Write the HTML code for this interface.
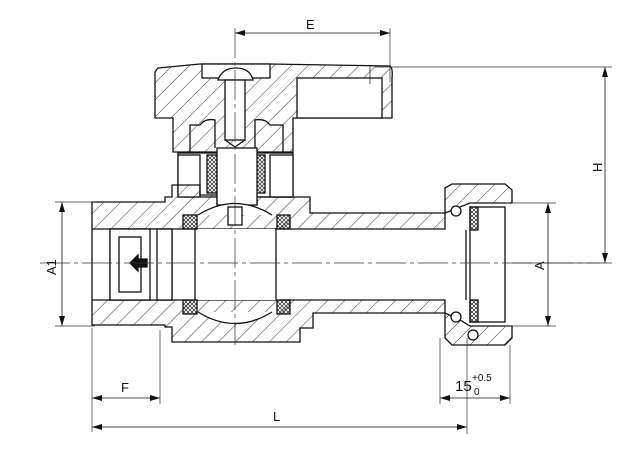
<!DOCTYPE html>
<html><head><meta charset="utf-8"><style>
html,body{margin:0;padding:0;background:#fff;}
svg{display:block;}
text{font-family:"Liberation Sans",Arial,sans-serif;fill:#111;}
</style></head><body>
<svg width="630" height="450" viewBox="0 0 630 450" xmlns="http://www.w3.org/2000/svg">
<defs>
<pattern id="h" width="12" height="12" patternUnits="userSpaceOnUse" patternTransform="rotate(45)">
<line x1="0" y1="0" x2="0" y2="12" stroke="#222" stroke-width="0.9"/></pattern>
<pattern id="x" width="4" height="4" patternUnits="userSpaceOnUse">
<path d="M0 0L4 4M4 0L0 4" stroke="#222" stroke-width="0.7"/></pattern>
<marker id="a" markerWidth="10" markerHeight="6" refX="10" refY="3" orient="auto-start-reverse" markerUnits="userSpaceOnUse">
<path d="M0 0L10 3L0 6z" fill="#111"/></marker>
</defs>
<g fill="none" stroke="#111" stroke-width="1.3">
<!-- handle -->
<path d="M158 68 L200 64 L270 64 L390 66 Q393 68 392 78 L392 118 L293 118 L293 152 L173 152 L173 118 L155 118 L155 72 Z" fill="url(#h)"/>
<rect x="297" y="78" width="85" height="40" fill="#fff"/>
<rect x="202" y="64" width="68" height="14" fill="#fff"/>
<path d="M218 80 Q222 68 236 68 Q250 68 253 80 Z" fill="#fff"/>
<rect x="225" y="80" width="20" height="60" fill="#fff"/>
<path d="M225 140 L235 147 L245 140"/>
<line x1="370" y1="66" x2="370" y2="84" stroke-width="0.7"/>
<!-- bonnet -->
<path d="M190 152 L190 125 L200 125 Q205 118 215 120 L215 148 M255 148 L255 120 Q265 118 270 125 L283 125 L283 152"/>
<path d="M178 153 L293 153 L293 197 L178 197 Z" fill="#fff"/>
<rect x="178" y="155" width="22" height="42" fill="#fff"/>
<rect x="270" y="155" width="23" height="42" fill="#fff"/>
<rect x="207" y="155" width="10" height="38" fill="url(#x)"/>
<rect x="255" y="155" width="10" height="38" fill="url(#x)"/>
<!-- body left + center -->
<path d="M92 202 L165 202 L165 197 L172 197 L172 185 L200 185 L200 195 L217 195 L217 205 L257 205 L257 197 L293 197 L310 197 L310 213 L445 213 L445 229 L92 229 Z" fill="url(#h)"/>
<path d="M92 300 L445 300 L445 313 L313 313 L313 328 L300 328 L300 342 L172 342 L172 327 L165 327 L165 325 L92 325 Z" fill="url(#h)"/>
<rect x="217" y="148" width="40" height="57" fill="#fff"/>
<line x1="92" y1="229" x2="92" y2="300"/>
<!-- inner cartridge -->
<rect x="110" y="229" width="62" height="71" fill="#fff"/>
<rect x="110" y="229" width="40" height="71" fill="#fff"/>
<rect x="119" y="237" width="22" height="55" fill="#fff"/>
<rect x="157" y="229" width="15" height="71" fill="#fff"/>
<path d="M130 263 L138 255 L138 259 L147 259 L147 267 L138 267 L138 271 Z" fill="#111"/>
<!-- ball -->
<path d="M190 229 L190 300 L280 300 L280 229 Z" fill="#fff" stroke="none"/>
<path d="M198 215 Q235 192 272 215 M198 312 Q235 335 272 312" fill="#fff"/>
<path d="M195 228 L195 300 M276 228 L276 300"/>
<rect x="228" y="207" width="14" height="18" fill="#fff"/>
<rect x="183" y="215" width="14" height="14" fill="url(#x)"/>
<rect x="277" y="215" width="13" height="14" fill="url(#x)"/>
<rect x="183" y="300" width="14" height="14" fill="url(#x)"/>
<rect x="277" y="300" width="13" height="14" fill="url(#x)"/>
<!-- union nut -->
<path d="M445 188 L452 184 L505 184 L512 190 L512 203 L470 203 L460 207 L445 213 Z" fill="url(#h)"/>
<path d="M445 313 L460 320 L470 326 L512 326 L512 338 L505 345 L452 345 L445 338 Z" fill="url(#h)"/>
<rect x="470" y="207" width="35" height="115" fill="#fff"/>
<rect x="470" y="207" width="8" height="23" fill="url(#x)"/>
<rect x="470" y="300" width="8" height="22" fill="url(#x)"/>
<line x1="466" y1="230" x2="466" y2="300"/>
<circle cx="456" cy="211" r="5" fill="#fff"/>
<circle cx="456" cy="317" r="5" fill="#fff"/>
<circle cx="473" cy="335" r="5" fill="#fff"/>
</g>
<!-- center lines -->
<g stroke="#333" stroke-width="0.7" fill="none">
<line x1="40" y1="263" x2="600" y2="263" stroke-dasharray="30 4 4 4"/>
<line x1="235" y1="28" x2="235" y2="345" stroke-dasharray="30 4 4 4"/>
<line x1="390" y1="28" x2="390" y2="82"/>
<line x1="375" y1="67" x2="612" y2="67"/>
<line x1="512" y1="263" x2="612" y2="263"/>
<line x1="55" y1="202" x2="95" y2="202"/>
<line x1="55" y1="326" x2="95" y2="326"/>
<line x1="505" y1="203" x2="556" y2="203"/>
<line x1="505" y1="326" x2="556" y2="326"/>
<line x1="92" y1="328" x2="92" y2="432"/>
<line x1="160" y1="330" x2="160" y2="404"/>
<line x1="467" y1="338" x2="467" y2="434"/>
<line x1="440" y1="338" x2="440" y2="404"/>
<line x1="510" y1="345" x2="510" y2="404"/>
</g>
<g stroke="#111" stroke-width="0.8">
<line x1="235" y1="33" x2="390" y2="33" marker-start="url(#a)" marker-end="url(#a)"/>
<line x1="605" y1="67" x2="605" y2="263" marker-start="url(#a)" marker-end="url(#a)"/>
<line x1="62" y1="202" x2="62" y2="326" marker-start="url(#a)" marker-end="url(#a)"/>
<line x1="548" y1="203" x2="548" y2="326" marker-start="url(#a)" marker-end="url(#a)"/>
<line x1="92" y1="398" x2="160" y2="398" marker-start="url(#a)" marker-end="url(#a)"/>
<line x1="92" y1="427" x2="467" y2="427" marker-start="url(#a)" marker-end="url(#a)"/>
<line x1="440" y1="398" x2="510" y2="398" marker-start="url(#a)" marker-end="url(#a)"/>
</g>
<text x="306" y="29" font-size="13">E</text>
<text x="121" y="392" font-size="13">F</text>
<text x="273" y="421" font-size="13">L</text>
<text transform="translate(602,172) rotate(-90)" font-size="13">H</text>
<text transform="translate(56,275) rotate(-90)" font-size="13">A1</text>
<text transform="translate(544,270) rotate(-90)" font-size="13">A</text>
<text x="455" y="391" font-size="15">15</text>
<text x="472" y="381" font-size="10">+0.5</text>
<text x="474" y="395" font-size="10">0</text>
</svg>
</body></html>
